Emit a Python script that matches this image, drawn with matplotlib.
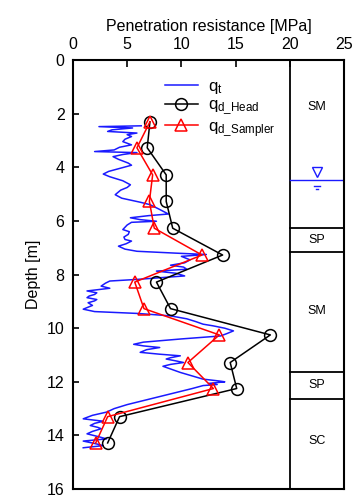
import matplotlib
matplotlib.use("Agg")
import matplotlib.pyplot as plt

plt.rcParams["font.family"] = ["Liberation Sans", "DejaVu Sans"]
plt.rcParams["mathtext.default"] = "regular"

# q_t (cone tip resistance) trace: depth [m], value [MPa]
qt_depth = [2.45, 2.48, 2.53, 2.60, 2.66, 2.72, 2.78, 2.85, 2.95, 3.04, 3.10, 3.16,
            3.25, 3.35, 3.41, 3.45, 3.52, 3.60, 3.70, 3.84, 3.92, 4.05, 4.15, 4.25,
            4.35, 4.50, 4.65, 4.75, 4.85, 5.02, 5.15, 5.30, 5.39, 5.55, 5.74, 5.80,
            5.88, 5.95, 6.01, 6.05, 6.15, 6.32, 6.40, 6.50, 6.60, 6.69, 6.75, 6.85,
            6.94, 7.05, 7.13, 7.20, 7.25, 7.32, 7.45, 7.56, 7.65, 7.72, 7.80, 7.87,
            7.95, 8.05, 8.12, 8.18, 8.24, 8.32, 8.43, 8.51, 8.61, 8.68, 8.74, 8.80,
            8.86, 8.93, 8.98, 9.05, 9.15, 9.29, 9.38, 9.45, 9.54, 9.65, 9.75, 9.85,
            9.91, 10.00, 10.10, 10.20, 10.29, 10.40, 10.52, 10.60, 10.66, 10.72,
            10.80, 10.90, 10.97, 11.03, 11.10, 11.15, 11.22, 11.28, 11.35, 11.42,
            11.52, 11.65, 11.78, 11.90, 11.97, 12.00, 12.06, 12.10, 12.14, 12.25,
            12.45, 12.65, 12.85, 13.00, 13.13, 13.25, 13.38, 13.47, 13.55, 13.63,
            13.70, 13.75, 13.85, 13.94, 14.05, 14.13, 14.21, 14.30, 14.38, 14.46]
qt_value = [6.3, 2.4, 5.5, 3.6, 3.2, 5.9, 5.0, 5.4, 4.8, 4.6, 5.0, 5.4,
            4.3, 3.8, 2.0, 5.9, 4.6, 3.7, 4.2, 5.1, 5.4, 4.2, 3.3, 2.8,
            3.4, 4.6, 5.3, 5.0, 4.4, 3.9, 4.5, 6.2, 7.1, 7.9, 8.8, 7.0,
            5.3, 6.2, 7.7, 5.4, 5.0, 4.6, 5.2, 5.1, 4.7, 4.8, 5.4, 4.9,
            4.2, 4.8, 5.9, 9.5, 12.3, 10.0, 10.8, 10.3, 9.0, 10.2, 10.5, 7.7,
            9.5, 10.3, 8.0, 5.9, 3.4, 3.0, 2.6, 3.4, 1.3, 2.2, 2.0, 1.5,
            1.3, 2.2, 2.0, 1.4, 1.8, 0.95, 2.0, 6.0, 9.0, 10.5, 11.3, 12.0,
            12.9, 14.0, 14.8, 14.2, 13.6, 10.0, 6.5, 5.6, 6.5, 8.0,
            6.8, 6.2, 8.0, 9.9, 9.0, 8.6, 9.5, 10.2, 9.0, 8.3,
            9.0, 9.9, 11.0, 12.0, 13.5, 14.0, 12.5, 13.3, 12.0, 11.0,
            9.0, 7.0, 5.0, 3.8, 3.1, 1.8, 0.95, 2.8, 2.0, 1.6,
            2.3, 2.6, 1.8, 1.3, 2.4, 3.1, 0.95, 2.0, 2.8, 0.95]

# dynamic resistance at the head and at the sampler
qd_depth = [2.3, 3.27, 4.28, 5.27, 6.27, 7.27, 8.28, 9.27, 10.25, 11.28, 12.25, 13.3, 14.28]
qd_head = [7.1, 6.85, 8.6, 8.6, 9.2, 13.8, 7.7, 9.0, 18.2, 14.5, 15.1, 4.3, 3.2]
qd_sampler = [7.1, 5.9, 7.35, 7.05, 7.5, 11.9, 5.7, 6.55, 13.5, 10.6, 12.95, 3.2, 2.1]

# soil column
layer_bounds = [6.25, 7.17, 11.63, 12.63]
soil_labels = ["SM", "SP", "SM", "SP", "SC"]
soil_label_depth = [1.75, 6.71, 9.37, 12.13, 14.2]
water_depth = 4.48

fig = plt.figure(figsize=(3.54, 4.97), dpi=100)
ax = fig.add_axes([0.206, 0.016, 0.766, 0.863])

ax.plot(qt_value, qt_depth, color="#1a1aff", lw=1.1, label="$q_t$", zorder=2)
ax.plot(qd_head, qd_depth, color="black", lw=1.1, marker="o", ms=8.5,
        mfc="none", mew=1.1, label="$q_{d\\_Head}$", zorder=3)
ax.plot(qd_sampler, qd_depth, color="red", lw=1.1, marker="^", ms=8.5,
        mfc="none", mew=1.1, label="$q_{d\\_Sampler}$", zorder=4)

# soil profile column on the right
ax.axvline(20, color="black", lw=1.3)
for b in layer_bounds:
    ax.plot([20, 25], [b, b], color="black", lw=1.3)
for lab, d in zip(soil_labels, soil_label_depth):
    ax.text(22.5, d, lab, ha="center", va="center", fontsize=9)

# ground water table
ax.plot([20, 25], [water_depth, water_depth], color="#1a1aff", lw=1.0)
ax.plot(22.5, water_depth - 0.3, marker="v", ms=7, mfc="none", mec="#1a1aff", mew=1.0)
ax.plot([22.25, 22.75], [water_depth + 0.2, water_depth + 0.2], color="#1a1aff", lw=1.0)
ax.plot([22.38, 22.62], [water_depth + 0.33, water_depth + 0.33], color="#1a1aff", lw=1.0)

ax.set_xlim(0, 25)
ax.set_ylim(16, 0)
ax.set_xticks([0, 5, 10, 15, 20, 25])
ax.set_yticks(range(0, 17, 2))
ax.xaxis.tick_top()
ax.xaxis.set_label_position("top")
ax.tick_params(axis="x", direction="in", length=5, width=1.2, labelsize=11.5, pad=6)
ax.tick_params(axis="y", direction="in", length=4, width=1.2, labelsize=11.5, pad=6)
ax.set_xlabel("Penetration resistance [MPa]", fontsize=11.5, labelpad=4)
ax.set_ylabel("Depth [m]", fontsize=11.5, labelpad=4)
for s in ax.spines.values():
    s.set_linewidth(1.5)

ax.legend(loc="upper left", bbox_to_anchor=(0.295, 0.983), frameon=False,
          fontsize=12, handlelength=2.0, handletextpad=0.6, labelspacing=0.1,
          borderpad=0.2)

fig.savefig("out.png", dpi=100)
